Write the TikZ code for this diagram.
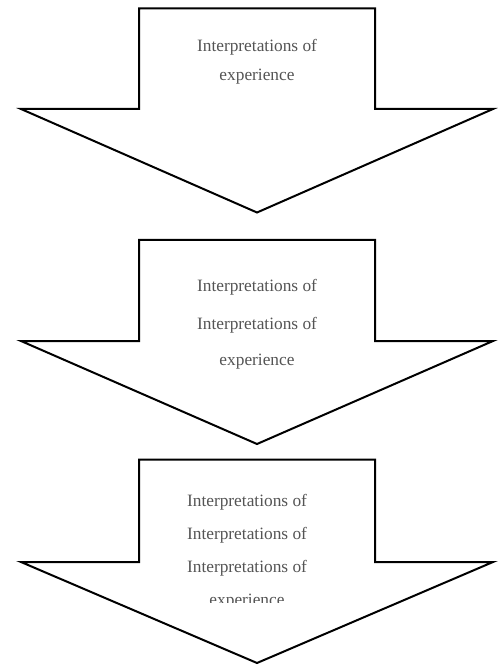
\documentclass[tikz,border=0pt]{standalone}
\usepackage{fontspec}
\setmainfont{Liberation Serif}
\usepackage{tikz}
\definecolor{textGray}{rgb}{0.33,0.33,0.33}

\begin{document}
\begin{tikzpicture}[x=0.75pt,y=-0.75pt,
    arrowline/.style={black,line width=1.5pt},
    arrowtext/.style={text=textGray,font=\fontsize{13}{15}\selectfont,inner sep=0pt}]
    \useasboundingbox (0,0) rectangle (501,666);

    % First arrow
    \draw [arrowline] (139,8.5) -- (375,8.5) -- (375,109) -- (493,109) -- (257,212.5) -- (21,109) -- (139,109) -- cycle;
    \node[arrowtext] (firstA) at (257,47) {Interpretations of};
    \node[arrowtext] (firstB) at (257,77) {experience};

    % Second arrow
    \draw [arrowline] (139,240) -- (375,240) -- (375,341) -- (493,341) -- (257,444) -- (21,341) -- (139,341) -- cycle;
    \node[arrowtext] (secondA) at (257,287) {Interpretations of};
    \node[arrowtext] (secondB) at (257,325) {Interpretations of};
    \node[arrowtext] (secondC) at (257,362) {experience};

    % Third arrow
    \draw [arrowline] (139,459.5) -- (375,459.5) -- (375,562) -- (493,562) -- (257,663) -- (21,562) -- (139,562) -- cycle;
    \node[arrowtext] (thirdA) at (247,502) {Interpretations of};
    \node[arrowtext] (thirdB) at (247,535) {Interpretations of};
    \node[arrowtext] (thirdC) at (247,568) {Interpretations of};
    \begin{scope}
      \clip (150,580) rectangle (350,602.5);
      \node[arrowtext] (thirdD) at (247,602) {experience};
    \end{scope}
\end{tikzpicture}
\end{document}
